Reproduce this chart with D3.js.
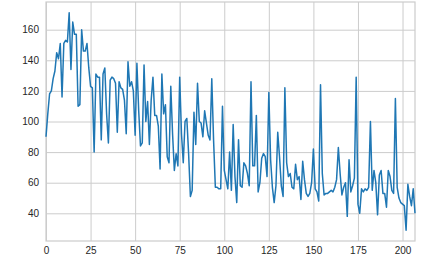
<!DOCTYPE html>
<html><head><meta charset="utf-8">
<script src="https://cdn.jsdelivr.net/npm/d3@7"></script>
<style>
html,body{margin:0;padding:0;background:#fff;}
svg{display:block;}
text{font-family:"Liberation Sans",Arial,sans-serif;}
</style></head>
<body>
<script>
const values = [
 90,105,118,120,128,133,145,141,151,116,
 151,153,152,171,134,165,157,157,110,111,
 160,146,146,151,135,123,122,80,131,129,
 129,88,131,135,105,86,127,129,128,125,
 93,126,122,121,114,92,139,123,126,120,
 91,138,107,84,86,137,100,113,85,114,
 129,104,104,97,69,131,105,111,77,73,
 123,92,68,79,71,129,92,73,100,102,
 79,51,55,106,85,125,100,99,90,107,
 99,91,88,128,88,57,57,56,56,110,
 68,62,56,80,55,98,64,47,88,58,
 57,73,71,66,58,126,71,71,104,54,
 60,76,79,77,64,119,75,57,47,58,
 93,77,58,51,122,73,64,66,57,56,
 72,62,64,49,74,62,53,51,53,60,
 82,56,54,48,124,66,52,53,53,54,
 55,54,57,62,83,66,52,57,60,38,
 75,54,58,63,129,46,40,56,54,56,
 55,57,100,55,68,60,39,65,68,53,
 53,44,68,64,55,53,115,57,50,47,
 46,45,29,59,51,45,56,40
];
const xTicks = [0,25,50,75,100,125,150,175,200];
const yTicks = [40,60,80,100,120,140,160];

const W = 422, H = 262;
const L = 46, R = 415, T = 2, B = 241;
const svg = d3.select("body").append("svg").attr("width",W).attr("height",H);

const x = d3.scaleLinear().domain([0, values.length-1]).range([L,R]);
const yMin = d3.min(values), yMax = d3.max(values), pad = (yMax-yMin)*0.05;
const y = d3.scaleLinear().domain([yMin-pad, yMax+pad]).range([B,T]);

const gx = svg.append("g").attr("transform",`translate(0,${B})`)
  .call(d3.axisBottom(x).tickValues(xTicks).tickSize(-(B-T)).tickPadding(6).tickFormat(d3.format("d")));
const gy = svg.append("g").attr("transform",`translate(${L},0)`)
  .call(d3.axisLeft(y).tickValues(yTicks).tickSize(-(R-L)).tickPadding(7).tickFormat(d3.format("d")));
[gx,gy].forEach(g=>{
  g.select(".domain").remove();
  g.selectAll(".tick line").attr("stroke","#cccccc").attr("stroke-width",1);
  g.selectAll(".tick text").attr("fill","#262626").style("font-size","10px");
});

svg.append("rect").attr("x",L).attr("y",T).attr("width",R-L).attr("height",B-T)
  .attr("fill","none").attr("stroke","#cccccc").attr("stroke-width",1.2);

const line = d3.line().x((d,i)=>x(i)).y(d=>y(d));
svg.append("path").datum(values).attr("d",line)
  .attr("fill","none").attr("stroke","#1f77b4").attr("stroke-width",1.5)
  .attr("stroke-linejoin","round");
</script>
</body></html>
